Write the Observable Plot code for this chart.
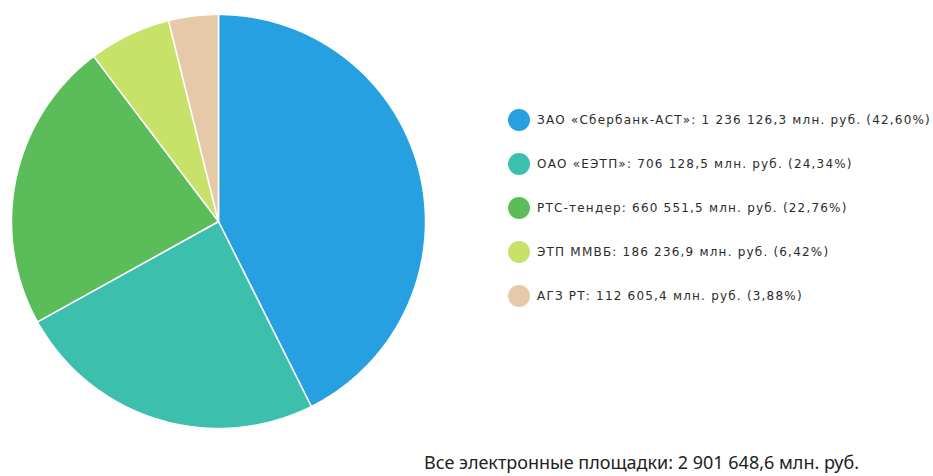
<!DOCTYPE html>
<html>
<head>
<meta charset="utf-8">
<script src="https://cdn.jsdelivr.net/npm/d3@7"></script>
<script src="https://cdn.jsdelivr.net/npm/@observablehq/plot@0.6"></script>
<style>
  body { margin: 0; background: #fff; }
  #wrap { position: relative; width: 933px; height: 476px; overflow: hidden; }
  #pie { position: absolute; left: 0; top: 0; }
  #legend { position: absolute; left: 508px; top: 109px; font-family: "DejaVu Sans", Verdana, sans-serif; font-size: 12px; letter-spacing: 1.2px; color: #2b2b2b; }
  .row { display: flex; align-items: center; height: 22px; margin-bottom: 22px; white-space: nowrap; }
  .sw { width: 22px; height: 22px; border-radius: 50%; margin-right: 7px; flex: none; }
  #total { position: absolute; left: 424px; top: 451px; font-family: "Noto Sans", "Open Sans", sans-serif; font-size: 18px; line-height: 22px; color: #222; white-space: nowrap; }
</style>
</head>
<body>
<div id="wrap">
  <div id="pie"></div>
  <div id="legend"></div>
  <div id="total"></div>
</div>
<script>
const names = ["ЗАО «Сбербанк-АСТ»", "ОАО «ЕЭТП»", "РТС-тендер", "ЭТП ММВБ", "АГЗ РТ"];
const values = [1236126.3, 706128.5, 660551.5, 186236.9, 112605.4];
const percents = ["42,60%", "24,34%", "22,76%", "6,42%", "3,88%"];
const valueLabels = ["1 236 126,3", "706 128,5", "660 551,5", "186 236,9", "112 605,4"];
const colors = ["#26a0e0", "#3dbfae", "#5bbc5a", "#c8e269", "#e5c9a8"];
const totalLabel = "Все электронные площадки: 2 901 648,6 млн. руб.";

const total = d3.sum(values);
// Build slice outlines from the values (cumulative angles, clockwise from top)
const pts = [];
let acc = 0;
values.forEach((v, i) => {
  const a0 = acc / total * 2 * Math.PI;
  acc += v;
  const a1 = acc / total * 2 * Math.PI;
  const n = Math.max(2, Math.ceil((a1 - a0) / (Math.PI / 360)));
  pts.push({name: names[i], x: 0, y: 0});
  for (let k = 0; k <= n; k++) {
    const a = a0 + (a1 - a0) * k / n;
    pts.push({name: names[i], x: Math.sin(a), y: Math.cos(a)});
  }
  pts.push({name: names[i], x: 0, y: 0});
});

const W = 440, H = 440, cx = 218, cy = 221, R = 207;
const chart = Plot.plot({
  width: W, height: H,
  margin: 0,
  x: {domain: [-cx / R, (W - cx) / R], axis: null},
  y: {domain: [-(H - cy) / R, cy / R], axis: null},
  color: {domain: names, range: colors},
  marks: [
    Plot.line(pts, {x: "x", y: "y", z: "name", fill: "name", stroke: "white", strokeWidth: 1.5, curve: "linear"})
  ]
});
document.getElementById("pie").appendChild(chart);

const legend = document.getElementById("legend");
names.forEach((n, i) => {
  const row = document.createElement("div");
  row.className = "row";
  const sw = document.createElement("div");
  sw.className = "sw";
  sw.style.background = colors[i];
  const t = document.createElement("span");
  t.textContent = `${n}: ${valueLabels[i]} млн. руб. (${percents[i]})`;
  row.appendChild(sw); row.appendChild(t);
  legend.appendChild(row);
});
document.getElementById("total").textContent = totalLabel;
</script>
</body>
</html>
